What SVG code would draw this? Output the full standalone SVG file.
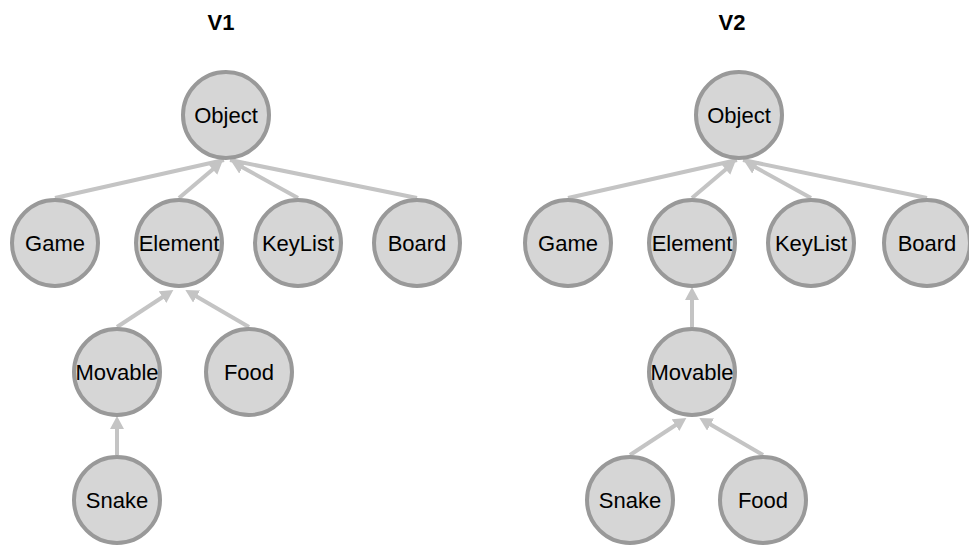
<svg xmlns="http://www.w3.org/2000/svg" width="969" height="545" viewBox="0 0 969 545">
<style>
.n circle{fill:#d6d6d6;stroke:#999;stroke-width:4}
.n text{font-family:"Liberation Sans",Arial,sans-serif;font-size:22px;fill:#000;text-anchor:middle}
.e line{stroke:#c4c4c4;stroke-width:4}
.e .a{marker-end:url(#arr)}
.t{font-family:"Liberation Sans",Arial,sans-serif;font-size:22px;font-weight:bold;text-anchor:middle;fill:#000}
</style>
<defs>
<marker id="arr" markerUnits="userSpaceOnUse" markerWidth="14" markerHeight="14" refX="3" refY="7" orient="auto">
<path d="M0,0 L13,7 L0,14 z" fill="#c4c4c4"/>
</marker>
</defs>
<rect width="969" height="545" fill="#fff"/>
<text class="t" x="221" y="30">V1</text>
<text class="t" x="732" y="30">V2</text>
<g id="edges" class="e">
<line x1="55" y1="198" x2="224" y2="160"/>
<line class="a" x1="179" y1="198" x2="215" y2="167.5"/>
<line class="a" x1="298" y1="198" x2="240" y2="166"/>
<line x1="417" y1="198" x2="230" y2="160"/>
<line class="a" x1="117" y1="327" x2="165" y2="295.5"/>
<line class="a" x1="249" y1="327" x2="194" y2="295"/>
<line class="a" x1="117" y1="455" x2="117" y2="426"/>
<line x1="568" y1="198" x2="737" y2="160"/>
<line class="a" x1="692" y1="198" x2="728" y2="167.5"/>
<line class="a" x1="811" y1="198" x2="753" y2="166"/>
<line x1="927" y1="198" x2="743" y2="160"/>
<line class="a" x1="692" y1="327" x2="692" y2="297"/>
<line class="a" x1="630" y1="455" x2="678" y2="423.5"/>
<line class="a" x1="763" y1="455" x2="708" y2="423"/>
</g>
<g id="v1-object" class="n"><circle cx="226" cy="115" r="43"/><text x="226" y="123">Object</text></g>
<g id="v1-game" class="n"><circle cx="55" cy="243" r="43"/><text x="55" y="251">Game</text></g>
<g id="v1-element" class="n"><circle cx="179" cy="243" r="43"/><text x="179" y="251">Element</text></g>
<g id="v1-keylist" class="n"><circle cx="298" cy="243" r="43"/><text x="298" y="251">KeyList</text></g>
<g id="v1-board" class="n"><circle cx="417" cy="243" r="43"/><text x="417" y="251">Board</text></g>
<g id="v1-movable" class="n"><circle cx="117" cy="372" r="43"/><text x="117" y="380">Movable</text></g>
<g id="v1-food" class="n"><circle cx="249" cy="372" r="43"/><text x="249" y="380">Food</text></g>
<g id="v1-snake" class="n"><circle cx="117" cy="500" r="43"/><text x="117" y="508">Snake</text></g>
<g id="v2-object" class="n"><circle cx="739" cy="115" r="43"/><text x="739" y="123">Object</text></g>
<g id="v2-game" class="n"><circle cx="568" cy="243" r="43"/><text x="568" y="251">Game</text></g>
<g id="v2-element" class="n"><circle cx="692" cy="243" r="43"/><text x="692" y="251">Element</text></g>
<g id="v2-keylist" class="n"><circle cx="811" cy="243" r="43"/><text x="811" y="251">KeyList</text></g>
<g id="v2-board" class="n"><circle cx="927" cy="243" r="43"/><text x="927" y="251">Board</text></g>
<g id="v2-movable" class="n"><circle cx="692" cy="372" r="43"/><text x="692" y="380">Movable</text></g>
<g id="v2-snake" class="n"><circle cx="630" cy="500" r="43"/><text x="630" y="508">Snake</text></g>
<g id="v2-food" class="n"><circle cx="763" cy="500" r="43"/><text x="763" y="508">Food</text></g>
</svg>
